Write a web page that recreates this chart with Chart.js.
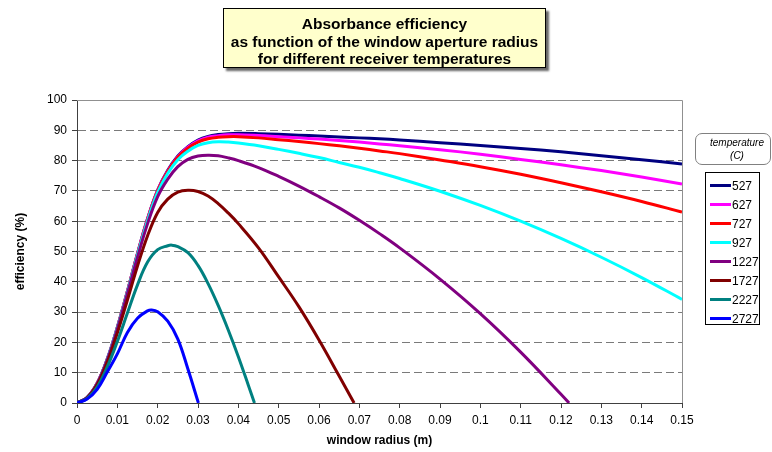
<!DOCTYPE html>
<html lang="en">
<head>
<meta charset="UTF-8">
<title>Absorbance efficiency</title>
<script src="https://cdn.jsdelivr.net/npm/chart.js"></script>
<style>
    body {
        margin: 0;
        background: #fff;
        font-family: 'Liberation Sans', Arial, sans-serif;
    }

    #wrap {
        position: relative;
        width: 772px;
        height: 452px;
        overflow: hidden;
    }

    #chart {
        position: absolute;
        left: 0;
        top: 0;
    }

    .title-box {
        position: absolute;
        left: 223px;
        top: 8px;
        width: 323px;
        height: 60px;
        box-sizing: border-box;
        background: #ffffcc;
        border: 1px solid #000;
        box-shadow: 3px 3px 2px #666;
        text-align: center;
        font-weight: bold;
        font-size: 15.5px;
        line-height: 17.5px;
        padding-top: 6px;
        color: #000;
    }

    .legend-title {
        position: absolute;
        left: 695px;
        top: 133px;
        width: 76px;
        height: 32px;
        box-sizing: border-box;
        border: 1px solid #808080;
        border-radius: 7px;
        text-align: center;
        font-style: italic;
        font-size: 10px;
        line-height: 13px;
        padding-top: 2px;
        padding-left: 8px;
    }

    .legend {
        position: absolute;
        left: 705px;
        top: 172px;
        width: 55px;
        height: 153px;
        box-sizing: border-box;
        border: 1px solid #000;
        padding-top: 3px;
    }

    .legend-row {
        display: flex;
        align-items: center;
        height: 19px;
        font-size: 12px;
    }

    .legend-row span.swatch {
        display: inline-block;
        width: 21px;
        height: 3px;
        margin-left: 4px;
        margin-right: 1px;
    }
</style>
</head>
<body>
<div id="wrap">
    <canvas id="chart" width="772" height="452"></canvas>
    <div class="title-box">Absorbance efficiency<br>as function of the window aperture radius<br>for different receiver temperatures</div>
    <div class="legend-title">temperature<br>(C)</div>
    <div class="legend" id="legend"></div>
</div>

<script>
    // receiver temperatures (C), one curve each
    const temperatures = ['527', '627', '727', '927', '1227', '1727', '2227', '2727'];
    const lineColors = ['#000080', '#ff00ff', '#ff0000', '#00ffff', '#800080', '#800000', '#008080', '#0000ff'];

    const xTickLabels = ['0', '0.01', '0.02', '0.03', '0.04', '0.05', '0.06', '0.07', '0.08',
        '0.09', '0.1', '0.11', '0.12', '0.13', '0.14', '0.15'];

    // window radius (m) for the curves that run to the end of the axis
    const radius = [0, 0.0025, 0.005, 0.0075, 0.01, 0.0125, 0.015, 0.0175, 0.02, 0.0225, 0.025, 0.0275,
        0.03, 0.0325, 0.035, 0.0375, 0.04, 0.045, 0.05, 0.055, 0.06, 0.065, 0.07, 0.075, 0.08,
        0.09, 0.1, 0.11, 0.12, 0.13, 0.14, 0.15];

    const eff527 = [0, 1.8, 6.5, 14.5, 25.0, 36.9, 49.4, 60.9, 70.3, 76.8, 81.5, 84.6,
        86.8, 88.0, 88.6, 88.9, 89.0, 88.9, 88.7, 88.4, 88.1, 87.8, 87.5, 87.2, 86.8,
        85.9, 85.0, 84.0, 82.9, 81.6, 80.3, 78.9];
    const eff627 = [0, 1.8, 6.5, 14.5, 24.9, 36.9, 49.3, 60.8, 70.2, 76.6, 81.3, 84.4,
        86.5, 87.7, 88.2, 88.5, 88.5, 88.3, 87.9, 87.5, 87.1, 86.6, 86.1, 85.5, 84.9,
        83.6, 82.1, 80.4, 78.6, 76.7, 74.6, 72.3];
    const eff727 = [0, 1.8, 6.5, 14.4, 24.9, 36.8, 49.2, 60.6, 70.0, 76.4, 81.1, 84.1,
        86.1, 87.2, 87.7, 87.9, 87.9, 87.5, 86.9, 86.3, 85.6, 84.9, 84.1, 83.2, 82.3,
        80.2, 78.0, 75.5, 72.7, 69.7, 66.5, 63.0];
    const eff927 = [0, 1.8, 6.4, 14.4, 24.8, 36.6, 48.9, 60.2, 69.5, 75.8, 80.3, 83.1,
        85.0, 85.9, 86.2, 86.1, 85.8, 84.9, 83.7, 82.4, 81.0, 79.4, 77.8, 76.0, 74.1,
        69.9, 65.2, 60.0, 54.3, 48.1, 41.4, 34.2];

    // hotter receivers drop to zero before the end of the axis
    const radius1227 = [0, 0.0025, 0.005, 0.0075, 0.01, 0.0125, 0.015, 0.0175, 0.02, 0.0225, 0.025, 0.0275,
        0.03, 0.0325, 0.035, 0.0375, 0.04, 0.045, 0.05, 0.055, 0.06, 0.065, 0.07, 0.075, 0.08,
        0.09, 0.1, 0.11, 0.12, 0.122];
    const eff1227 = [0, 1.8, 6.4, 14.2, 24.4, 36.1, 48.1, 59.2, 68.1, 73.9, 78.0, 80.4,
        81.5, 81.8, 81.6, 80.9, 80.0, 77.7, 74.8, 71.6, 68.1, 64.4, 60.3, 55.9, 51.2,
        40.9, 29.5, 16.8, 2.9, 0];

    const radius1727 = [0, 0.0025, 0.005, 0.0075, 0.01, 0.0125, 0.015, 0.0175, 0.02, 0.0225, 0.025, 0.0275,
        0.03, 0.0325, 0.035, 0.0375, 0.04, 0.045, 0.05, 0.055, 0.06, 0.065, 0.0687];
    const eff1727 = [0, 1.7, 6.0, 13.4, 23.1, 34.0, 45.2, 55.2, 62.9, 67.3, 69.6, 70.2,
        69.8, 68.3, 65.8, 62.7, 59.2, 51.2, 41.6, 31.8, 20.8, 8.9, 0];

    const radius2227 = [0, 0.0025, 0.005, 0.0075, 0.01, 0.0125, 0.015, 0.0175, 0.02, 0.0225, 0.0235, 0.025,
        0.0275, 0.03, 0.0325, 0.035, 0.0375, 0.04, 0.0425, 0.044];
    const eff2227 = [0, 1.5, 5.3, 11.9, 20.3, 29.7, 39.0, 46.5, 50.6, 51.9, 52.1, 51.6,
        49.6, 45.4, 39.4, 32.2, 24.1, 15.3, 5.8, 0];

    const radius2727 = [0, 0.0025, 0.005, 0.0075, 0.01, 0.0125, 0.015, 0.0175, 0.0185, 0.02, 0.0225,
        0.025, 0.0275, 0.0301];
    const eff2727 = [0, 1.3, 4.5, 10.2, 16.2, 23.3, 28.0, 30.4, 30.7, 30.1, 27.0,
        21.1, 11.2, 0];

    const radii = [radius, radius, radius, radius, radius1227, radius1727, radius2227, radius2727];
    const values = [eff527, eff627, eff727, eff927, eff1227, eff1727, eff2227, eff2727];

    Chart.defaults.font.family = "'Liberation Sans', Arial, sans-serif";
    Chart.defaults.color = '#000';

    const datasets = temperatures.map((t, i) => ({
        label: t,
        data: radii[i].map((r, j) => ({ x: r, y: values[i][j] })),
        borderColor: lineColors[i],
        backgroundColor: lineColors[i],
        order: temperatures.length - i   // later series drawn on top, as in the original
    }));

    // HTML legend built from the same series
    const legendEl = document.getElementById('legend');
    temperatures.forEach((t, i) => {
        const row = document.createElement('div');
        row.className = 'legend-row';
        row.innerHTML = '<span class="swatch" style="background:' + lineColors[i] + '"></span>' + t;
        legendEl.appendChild(row);
    });

    // plot area frame (top and right edges)
    const plotFrame = {
        id: 'plotFrame',
        beforeDatasetsDraw(chart) {
            const { ctx, chartArea: a } = chart;
            ctx.save();
            ctx.strokeStyle = '#909090';
            ctx.lineWidth = 1;
            ctx.beginPath();
            ctx.moveTo(a.left, a.top + 0.5);
            ctx.lineTo(a.right + 0.5, a.top + 0.5);
            ctx.lineTo(a.right + 0.5, a.bottom);
            ctx.stroke();
            ctx.restore();
        }
    };

    new Chart(document.getElementById('chart'), {
        type: 'line',
        data: { datasets: datasets },
        options: {
            responsive: false,
            animation: false,
            devicePixelRatio: 1,
            layout: { padding: { left: 0, right: 90, top: 100, bottom: 0 } },
            plugins: {
                legend: { display: false },
                tooltip: { enabled: false }
            },
            elements: {
                point: { radius: 0 },
                line: { borderWidth: 3, tension: 0.4 }
            },
            scales: {
                x: {
                    type: 'linear',
                    min: 0,
                    max: 0.15,
                    ticks: {
                        stepSize: 0.01,
                        autoSkip: false,
                        maxRotation: 0,
                        padding: 5,
                        font: { size: 12 },
                        callback: (v, i) => xTickLabels[i]
                    },
                    grid: { drawOnChartArea: false, tickLength: 5, color: '#404040' },
                    border: { color: '#404040' },
                    title: {
                        display: true,
                        text: 'window radius (m)',
                        font: { size: 12, weight: 'bold' },
                        padding: { top: 0, bottom: 4 }
                    },
                    afterFit: s => { s.height = 49; }
                },
                y: {
                    min: 0,
                    max: 100,
                    ticks: { stepSize: 10, padding: 5, font: { size: 12 } },
                    grid: { color: '#7a7a7a', tickColor: '#404040', tickLength: 5, tickBorderDash: [] },
                    border: { color: '#404040', dash: [8, 4] },
                    title: {
                        display: true,
                        text: 'efficiency (%)',
                        font: { size: 12, weight: 'bold' },
                        padding: { top: 13, bottom: 0 }
                    },
                    afterFit: s => { s.width = 77; }
                }
            }
        },
        plugins: [plotFrame]
    });
</script>
</body>
</html>
